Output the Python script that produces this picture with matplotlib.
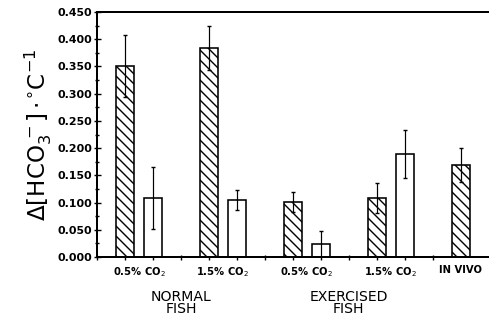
import matplotlib
matplotlib.use("Agg")
import matplotlib.pyplot as plt
import numpy as np

# ---- data ----
group_labels = ["0.5% CO$_2$", "1.5% CO$_2$", "0.5% CO$_2$", "1.5% CO$_2$", "IN VIVO"]
hatched_vals = [0.351, 0.384, 0.101, 0.108, 0.169]
hatched_err = [0.057, 0.040, 0.018, 0.028, 0.031]
open_vals = [0.108, 0.105, 0.024, 0.189]
open_err = [0.057, 0.018, 0.024, 0.044]
section_labels = ["NORMAL\nFISH", "EXERCISED\nFISH"]
yticks = [0.0, 0.05, 0.1, 0.15, 0.2, 0.25, 0.3, 0.35, 0.4, 0.45]

DPI = 60
def pt(px):
    return px * 72.0 / DPI

plt.rcParams['hatch.linewidth'] = pt(1.4)
plt.rcParams['font.family'] = ['DejaVu Sans']

fig = plt.figure(figsize=(490 / DPI, 331 / DPI), dpi=DPI)
ax = fig.add_axes([97 / 490, 1 - 257 / 331, (489 - 97) / 490, (257 - 12) / 331])

x = np.arange(len(group_labels))
off = 0.167
w = 0.215
hx = x - off
ox = x[:len(open_vals)] + off

ax.bar(hx, hatched_vals, w, facecolor='white', edgecolor='black', hatch='\\\\',
       linewidth=pt(1.6), zorder=2)
ax.bar(ox, open_vals, w, facecolor='white', edgecolor='black',
       linewidth=pt(1.6), zorder=2)
ax.errorbar(hx, hatched_vals, yerr=hatched_err, fmt='none', ecolor='black',
            elinewidth=pt(1.2), capsize=pt(2), capthick=pt(1.4), zorder=3)
ax.errorbar(ox, open_vals, yerr=open_err, fmt='none', ecolor='black',
            elinewidth=pt(1.2), capsize=pt(2), capthick=pt(1.4), zorder=3)

ax.set_xlim(-0.5, 4.17)
ax.set_ylim(0, 0.45)
ax.set_yticks(yticks)
ax.set_yticklabels([f"{v:.3f}" for v in yticks], fontsize=pt(11), fontweight='bold')
ax.set_yticks(np.arange(0.025, 0.45, 0.05), minor=True)
ax.tick_params(axis='y', which='major', direction='inout', length=pt(7), width=pt(1.4), pad=pt(1))
ax.tick_params(axis='y', which='minor', direction='inout', length=pt(4), width=pt(1.4))

label_pos = list(x[:4]) + [x[4] - off]
ax.set_xticks(label_pos)
ax.set_xticklabels(group_labels, fontsize=pt(10), fontweight='bold')
ax.tick_params(axis='x', which='major', length=0, pad=pt(8))
minor_x = list(np.arange(-0.5, 4.0, 1.0)) + list(hx) + list(ox)
ax.set_xticks(minor_x, minor=True)
ax.tick_params(axis='x', which='minor', direction='inout', length=pt(5), width=pt(1.4))

for s in ['left', 'bottom', 'top']:
    ax.spines[s].set_linewidth(pt(2))
ax.spines['right'].set_visible(False)

ax.set_ylabel(r'$\Delta[\mathrm{HCO_3^{\,-}}]\cdot\!{}^{\circ}\mathrm{C}^{-1}$',
              fontsize=pt(23), labelpad=pt(4))

for xp, lab in zip([0.5, 2.5], section_labels):
    ax.text(xp, -0.135, lab, transform=ax.get_xaxis_transform(),
            ha='center', va='top', fontsize=pt(14), linespacing=0.85)

fig.savefig("out.png", dpi=DPI)
